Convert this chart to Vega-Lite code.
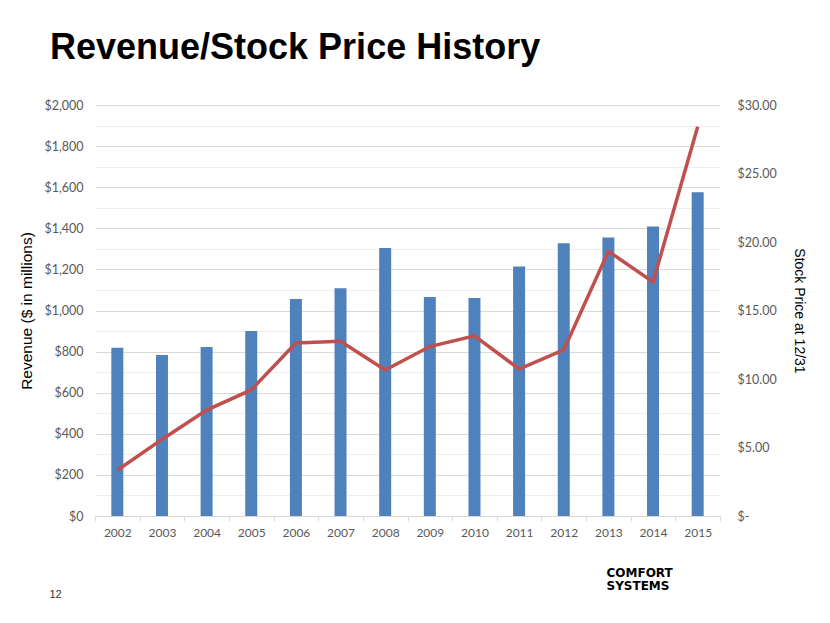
{
  "$schema": "https://vega.github.io/schema/vega-lite/v6.json",
  "autosize": "none",
  "width": 625,
  "height": 411,
  "padding": {"left": 95, "top": 105, "right": 110, "bottom": 107},
  "background": "white",
  "title": {
    "text": "Revenue/Stock Price History",
    "font": "Liberation Sans",
    "fontSize": 36,
    "fontWeight": "bold",
    "color": "#000000",
    "anchor": "start",
    "frame": "group",
    "baseline": "alphabetic",
    "dx": -45,
    "offset": 4
  },
  "data": {
    "values": [
      {"year": "2002", "revenue": 819, "price": 3.34},
      {"year": "2003", "revenue": 783, "price": 5.59},
      {"year": "2004", "revenue": 822, "price": 7.73},
      {"year": "2005", "revenue": 900, "price": 9.2},
      {"year": "2006", "revenue": 1056, "price": 12.63},
      {"year": "2007", "revenue": 1108, "price": 12.75},
      {"year": "2008", "revenue": 1304, "price": 10.66},
      {"year": "2009", "revenue": 1066, "price": 12.37},
      {"year": "2010", "revenue": 1061, "price": 13.15},
      {"year": "2011", "revenue": 1214, "price": 10.73},
      {"year": "2012", "revenue": 1327, "price": 12.12},
      {"year": "2013", "revenue": 1355, "price": 19.32},
      {"year": "2014", "revenue": 1409, "price": 17.08},
      {"year": "2015", "revenue": 1576, "price": 28.42}
    ]
  },
  "layer": [
    {
      "mark": {"type": "bar", "color": "#4f81bd", "size": 12},
      "encoding": {
        "x": {
          "field": "year",
          "type": "ordinal",
          "scale": {"paddingInner": 0, "paddingOuter": 0},
          "axis": {
            "orient": "bottom",
            "labelAngle": 0,
            "labelFont": "Lato",
            "labelFontSize": 12,
            "labelColor": "#595959",
            "labelPadding": 6,
            "domain": true,
            "domainColor": "#d9d9d9",
            "ticks": true,
            "tickColor": "#d9d9d9",
            "tickSize": 5,
            "tickBand": "extent",
            "bandPosition": 0,
            "grid": false,
            "title": ["COMFORT", "SYSTEMS"],
            "titleFont": "DejaVu Sans",
            "titleFontSize": 12,
            "titleFontWeight": "bold",
            "titleColor": "#000000",
            "titleAlign": "left",
            "titleBaseline": "alphabetic",
            "titleAngle": 0,
            "titleLineHeight": 13,
            "titleX": 511,
            "titleY": 60
          }
        },
        "y": {
          "field": "revenue",
          "type": "quantitative",
          "scale": {"domain": [0, 2000], "nice": false},
          "axis": {
            "orient": "left",
            "values": [0, 100, 200, 300, 400, 500, 600, 700, 800, 900, 1000, 1100, 1200, 1300, 1400, 1500, 1600, 1700, 1800, 1900, 2000],
            "labelExpr": "datum.value % 200 === 0 ? '$' + format(datum.value, ',') : ''",
            "labelFont": "Lato",
            "labelFontSize": 12.5,
            "labelColor": "#595959",
            "labelPadding": 12,
            "domain": false,
            "ticks": false,
            "grid": true,
            "gridColor": {"condition": {"test": "datum.value % 200 === 0", "value": "#d9d9d9"}, "value": "#eeeeee"},
            "gridWidth": 1,
            "title": "Revenue ($ in millions)",
            "titleFont": "Liberation Sans",
            "titleFontSize": 15.5,
            "titleFontWeight": "normal",
            "titleColor": "#000000",
            "titlePadding": 9
          }
        }
      }
    },
    {
      "mark": {"type": "line", "color": "#c0504d", "strokeWidth": 3.5},
      "encoding": {
        "x": {
          "field": "year",
          "type": "ordinal",
          "axis": {
            "orient": "top",
            "labels": false,
            "ticks": false,
            "domain": false,
            "grid": false,
            "title": "12",
            "titleFont": "Liberation Sans",
            "titleFontSize": 11,
            "titleFontWeight": "normal",
            "titleColor": "#333333",
            "titleAlign": "left",
            "titleBaseline": "alphabetic",
            "titleAngle": 0,
            "titleX": -46,
            "titleY": 492
          }
        },
        "y": {
          "field": "price",
          "type": "quantitative",
          "scale": {"domain": [0, 30], "nice": false},
          "axis": {
            "orient": "right",
            "values": [0, 5, 10, 15, 20, 25, 30],
            "labelExpr": "datum.value === 0 ? '$-' : format(datum.value, '$.2f')",
            "labelFont": "Lato",
            "labelFontSize": 12.5,
            "labelColor": "#595959",
            "labelPadding": 17,
            "domain": false,
            "ticks": false,
            "grid": false,
            "title": "Stock Price at 12/31",
            "titleFont": "Liberation Sans",
            "titleFontSize": 14,
            "titleFontWeight": "normal",
            "titleColor": "#000000",
            "titlePadding": 15
          }
        }
      }
    }
  ],
  "resolve": {"scale": {"y": "independent"}, "axis": {"x": "independent"}},
  "config": {"view": {"stroke": null}}
}
